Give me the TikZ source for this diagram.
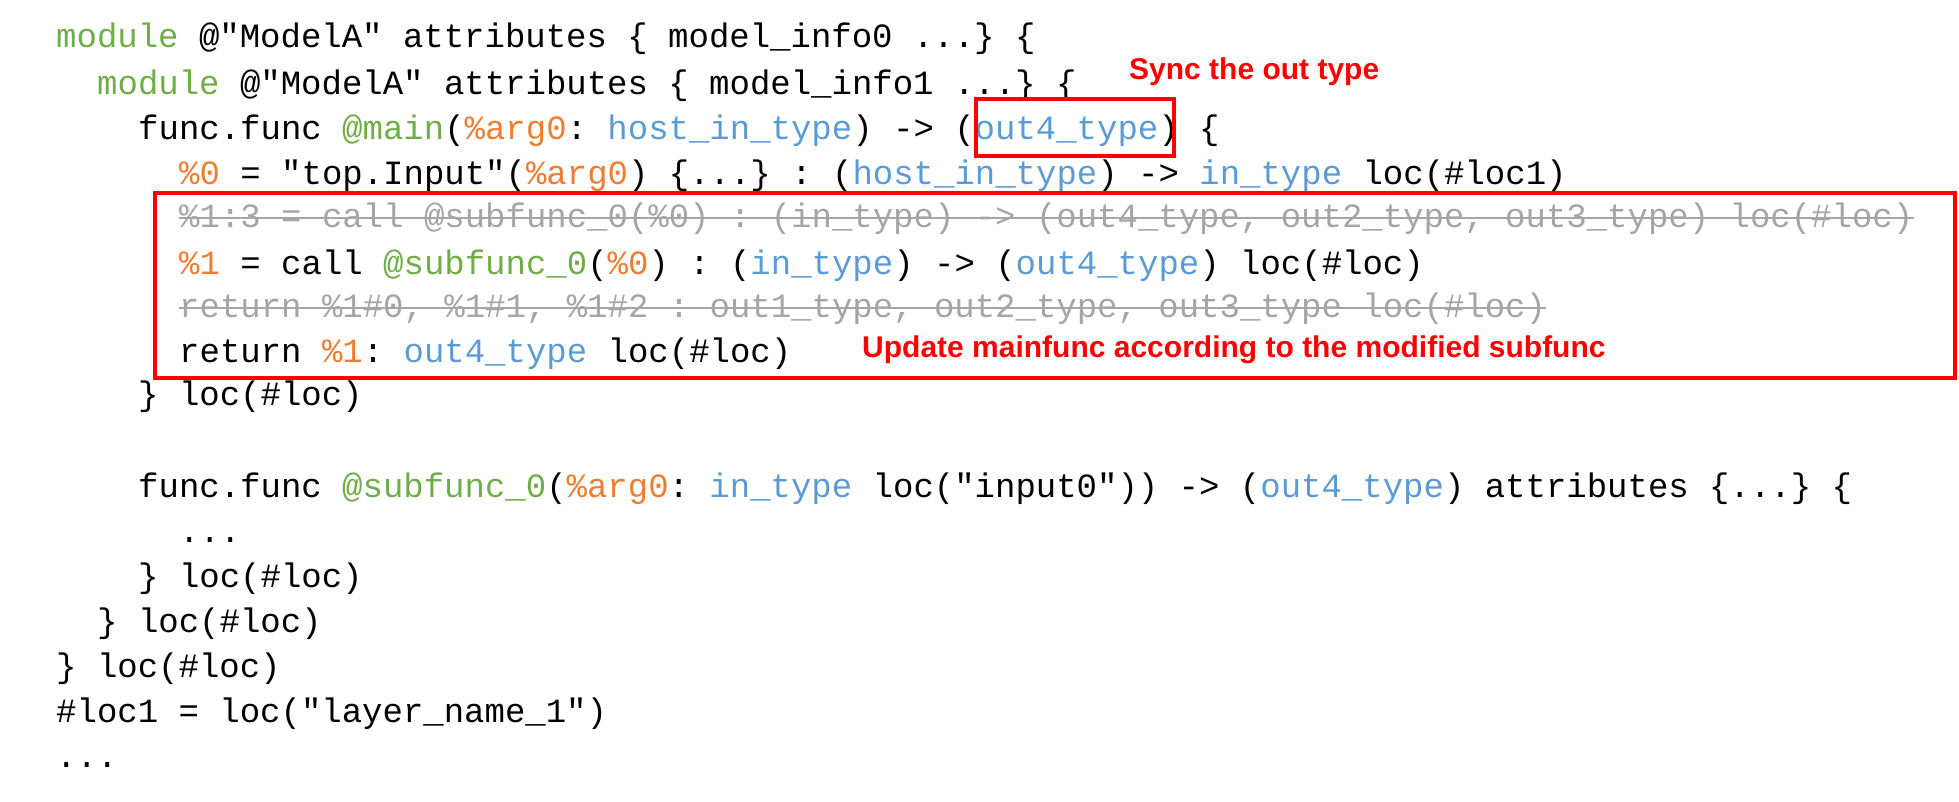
\documentclass[tikz,border=0pt]{standalone}
\usepackage{fontspec}
\setmainfont{Liberation Sans}
\setmonofont{Liberation Mono}
\usetikzlibrary{positioning}

\definecolor{kwgreen}{RGB}{112,173,71}
\definecolor{varorange}{RGB}{237,125,49}
\definecolor{typeblue}{RGB}{91,155,213}
\definecolor{oldgray}{RGB}{165,165,165}
\newcommand{\Gk}[1]{\textcolor{kwgreen}{#1}}
\newcommand{\Ov}[1]{\textcolor{varorange}{#1}}
\newcommand{\Bt}[1]{\textcolor{typeblue}{#1}}

\begin{document}
\begin{tikzpicture}[
    x=1pt, y=-1pt,
    code/.style = {
      anchor = base west,
      inner sep = 0pt,
      font = \fontsize{34}{40}\selectfont\ttfamily
    },
    old/.style = {code, text = oldgray},
    note/.style = {
      anchor = west,
      inner sep = 0pt,
      text = red,
      font = \fontsize{30}{36}\selectfont\bfseries
    },
    hlbox/.style = {draw = red, line width = 4pt}
  ]
  \useasboundingbox (0,0) rectangle (1959,801);

  % listing, one node per line
  \node[code] (l1)  at (56,47)   {\Gk{module} @"ModelA" attributes \{ model\_info0 ...\} \{};
  \node[code] (l2)  at (97,94)   {\Gk{module} @"ModelA" attributes \{ model\_info1 ...\} \{};
  \node[code] (l3)  at (138,139) {func.func \Gk{@main}(\Ov{\%arg0}: \Bt{host\_in\_type}) -> (\Bt{out4\_type}) \{};
  \node[code] (l4)  at (179,184) {\Ov{\%0} = "top.Input"(\Ov{\%arg0}) \{...\} : (\Bt{host\_in\_type}) -> \Bt{in\_type} loc(\#loc1)};
  \node[old]  (l5)  at (179,227) {\%1:3 = call @subfunc\_0(\%0) : (in\_type) -> (out4\_type, out2\_type, out3\_type) loc(\#loc)};
  \node[code] (l6)  at (179,274) {\Ov{\%1} = call \Gk{@subfunc\_0}(\Ov{\%0}) : (\Bt{in\_type}) -> (\Bt{out4\_type}) loc(\#loc)};
  \node[old]  (l7)  at (179,317) {return \%1\#0, \%1\#1, \%1\#2 : out1\_type, out2\_type, out3\_type loc(\#loc)};
  \node[code] (l8)  at (179,362) {return \Ov{\%1}: \Bt{out4\_type} loc(\#loc)};
  \node[code] (l9)  at (138,405) {\} loc(\#loc)};
  \node[code] (l11) at (138,497) {func.func \Gk{@subfunc\_0}(\Ov{\%arg0}: \Bt{in\_type} loc("input0")) -> (\Bt{out4\_type}) attributes \{...\} \{};
  \node[code] (l12) at (179,542) {...};
  \node[code] (l13) at (138,587) {\} loc(\#loc)};
  \node[code] (l14) at (97,632)  {\} loc(\#loc)};
  \node[code] (l15) at (56,677)  {\} loc(\#loc)};
  \node[code] (l16) at (56,722)  {\#loc1 = loc("layer\_name\_1")};
  \node[code] (l17) at (56,767)  {...};

  % struck-out old lines
  \draw[oldgray, line width=2.5pt] ([yshift=9pt]l5.base west) -- ([yshift=9pt]l5.base east);
  \draw[oldgray, line width=2.5pt] ([yshift=9pt]l7.base west) -- ([yshift=9pt]l7.base east);

  % highlights
  \draw[hlbox] (976,99) rectangle (1174,156);
  \draw[hlbox] (155,193) rectangle (1955,378);
  \node[note] (sync) at (1129,72)  {Sync the out type};
  \node[note] (upd)  at (862,350)  {Update mainfunc according to the modified subfunc};
\end{tikzpicture}
\end{document}
